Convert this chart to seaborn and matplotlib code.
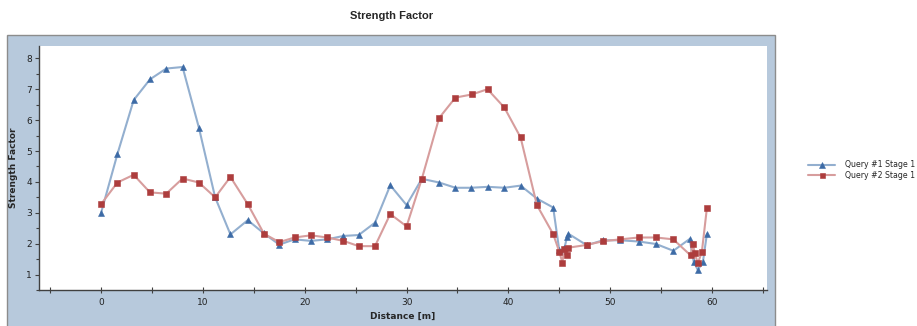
import matplotlib
matplotlib.use("Agg")
import matplotlib.pyplot as plt
from matplotlib.patches import Rectangle
from matplotlib.ticker import MultipleLocator
import seaborn as sns
import pandas as pd

# ---- data ----
x_q1 = [0.0, 1.6, 3.2, 4.8, 6.4, 8.0, 9.6, 11.2, 12.7, 14.4, 16.0, 17.5, 19.0, 20.6,
        22.2, 23.8, 25.3, 26.9, 28.4, 30.0, 31.5, 33.2, 34.8, 36.3, 38.0, 39.6, 41.2,
        42.8, 44.4, 45.0, 45.3, 45.5, 45.75, 45.9, 47.7, 49.3, 51.0, 52.8, 54.5, 56.2,
        57.8, 58.2, 58.6, 59.1, 59.5]
y_q1 = [3.0, 4.9, 6.65, 7.32, 7.67, 7.72, 5.76, 3.5, 2.3, 2.76, 2.33, 1.97, 2.14, 2.09,
        2.14, 2.25, 2.28, 2.68, 3.89, 3.25, 4.1, 3.98, 3.81, 3.81, 3.84, 3.81, 3.88,
        3.46, 3.17, 1.78, 1.76, 1.85, 2.2, 2.32, 1.95, 2.11, 2.11, 2.07, 1.99, 1.77,
        2.15, 1.42, 1.15, 1.4, 2.32]

x_q2 = [0.0, 1.6, 3.2, 4.8, 6.4, 8.0, 9.6, 11.2, 12.7, 14.4, 16.0, 17.5, 19.0, 20.6,
        22.2, 23.8, 25.3, 26.9, 28.4, 30.0, 31.5, 33.2, 34.8, 36.4, 37.95, 39.6, 41.2,
        42.8, 44.4, 45.0, 45.3, 45.5, 45.75, 45.9, 47.7, 49.3, 51.0, 52.8, 54.5, 56.2,
        57.9, 58.1, 58.3, 58.6, 59.0, 59.5]
y_q2 = [3.28, 3.98, 4.23, 3.66, 3.62, 4.11, 3.98, 3.5, 4.16, 3.28, 2.32, 2.05, 2.2, 2.27,
        2.2, 2.09, 1.92, 1.92, 2.96, 2.56, 4.1, 6.07, 6.73, 6.83, 7.0, 6.41, 5.44,
        3.25, 2.31, 1.74, 1.39, 1.83, 1.62, 1.87, 1.96, 2.08, 2.14, 2.2, 2.2, 2.14,
        1.62, 2.0, 1.71, 1.36, 1.73, 3.16]

series_names = ["Query #1 Stage 1", "Query #2 Stage 1"]

title = "Strength Factor"
xlabel = "Distance [m]"
ylabel = "Strength Factor"

# ---- figure ----
sns.set_theme(style="white")
plt.rcParams["font.family"] = ["DejaVu Sans"]

fig = plt.figure(figsize=(9.17, 3.26), dpi=100)
W, H = 917.0, 326.0

# outer blue frame
fig.patches.append(Rectangle((7 / W, -0.01), (775 - 7) / W, 1 - 35 / H + 0.01,
                             transform=fig.transFigure, facecolor="#b7c9dc",
                             edgecolor="#8c8c8c", linewidth=1.0, zorder=-5))

ax = fig.add_axes([39 / W, 1 - 290 / H, (767 - 39) / W, (290 - 46) / H])
ax.set_zorder(2)
ax.set_facecolor("white")

df1 = pd.DataFrame({"x": x_q1, "y": y_q1})
df2 = pd.DataFrame({"x": x_q2, "y": y_q2})

styles = [
    (df1, series_names[0], "^", "#93afcf", "#3d6ba6", 4.6),
    (df2, series_names[1], "s", "#d79d9d", "#ad3d3d", 4.0),
]
for df, name, mk, lc, mc, ms in styles:
    n_before = len(ax.lines)
    sns.lineplot(data=df, x="x", y="y", ax=ax, sort=False, estimator=None,
                 color=lc, linewidth=1.5, marker=mk, markersize=ms,
                 markerfacecolor=mc, markeredgecolor=mc, markeredgewidth=0.4,
                 label=name, legend=False)
    for ln in ax.lines[n_before:]:
        ln.set_markerfacecolor(mc)
        ln.set_markeredgecolor(mc)

ax.set_xlim(-6.1, 65.4)
ax.set_ylim(0.5, 8.4)
ax.xaxis.set_major_locator(MultipleLocator(10))
ax.xaxis.set_minor_locator(MultipleLocator(5))
ax.yaxis.set_major_locator(MultipleLocator(1))
ax.yaxis.set_minor_locator(MultipleLocator(0.5))
ax.set_yticks([1, 2, 3, 4, 5, 6, 7, 8])

for s in ["top", "right"]:
    ax.spines[s].set_visible(False)
for s in ["left", "bottom"]:
    ax.spines[s].set_color("#404040")
    ax.spines[s].set_linewidth(1.0)

ax.tick_params(axis="both", which="major", direction="out", length=3, width=0.8,
               color="#404040", labelsize=6.5, labelcolor="#222222", pad=2,
               bottom=True, left=True)
ax.tick_params(axis="both", which="minor", direction="out", length=2, width=0.8,
               color="#404040", bottom=True, left=True)
ax.tick_params(axis="x", which="both", direction="inout", length=4)
ax.tick_params(axis="x", which="major", pad=4)

ax.set_xlabel(xlabel, fontsize=6.5, fontweight="bold", labelpad=3)
ax.set_ylabel(ylabel, fontsize=6.5, fontweight="bold", labelpad=6)

fig.text(392 / W, 1 - 16 / H, title, ha="center", va="center",
         fontsize=8, fontweight="bold", family=["Liberation Sans", "DejaVu Sans"])

handles, labels = ax.get_legend_handles_labels()
leg = fig.legend(handles, labels, loc="center left",
                 bbox_to_anchor=(808 / W, 1 - 170 / H), frameon=False,
                 fontsize=5.6, handlelength=3.5, handletextpad=1.3,
                 labelspacing=0.2, borderaxespad=0, borderpad=0, markerscale=0.9)

fig.savefig("out.png", dpi=100, facecolor="white")
